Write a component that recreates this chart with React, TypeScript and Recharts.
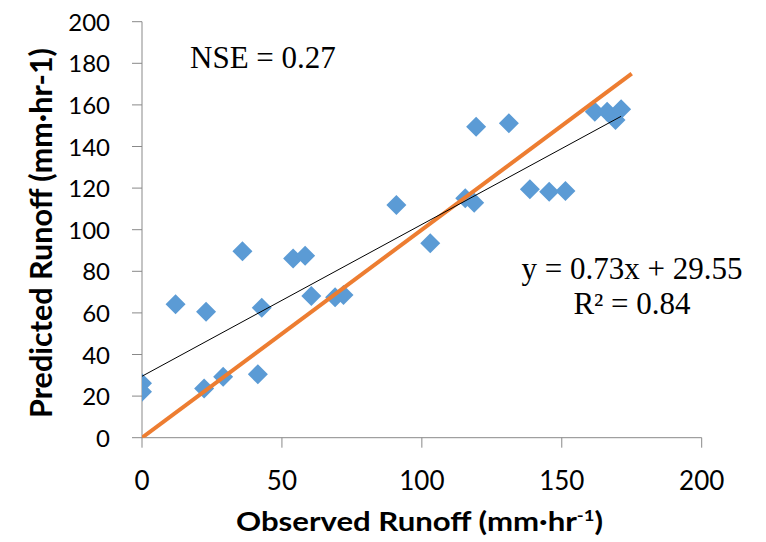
import React from 'react';
import { ScatterChart, Scatter, XAxis, YAxis } from 'recharts';

const observed = [
  0, 0, 12.0, 22.9, 22.2, 29.0, 35.9, 41.4, 42.8, 54.0, 58.3, 60.5, 69.0, 72.0,
  90.9, 103.0, 115.5, 118.7, 119.4, 131.1, 138.6, 145.5, 151.3, 161.8, 166.2, 169.2, 171.2,
];
const predicted = [
  26.2, 22.1, 64.1, 60.6, 23.7, 29.3, 89.6, 30.5, 62.5, 86.2, 87.5, 68.1, 67.5, 68.6,
  111.9, 93.5, 115.1, 113.0, 149.5, 151.2, 119.4, 118.3, 118.6, 156.7, 156.7, 152.7, 157.9,
];

const xTicks = [0, 50, 100, 150, 200];
const yTicks = [0, 20, 40, 60, 80, 100, 120, 140, 160, 180, 200];

// 1:1 line and linear trend endpoints
const oneToOneX = [0, 175];
const oneToOneY = [0, 175];
const trendX = [0, 171.2];
const trendY = [29.55, 154.5];

const points = observed.map((x, i) => ({ x, y: predicted[i] }));
const oneToOne = oneToOneX.map((x, i) => ({ x, y: oneToOneY[i] }));
const trend = trendX.map((x, i) => ({ x, y: trendY[i] }));

const AXIS_GREY = '#898989';
const BLUE = '#5B9BD5';
const ORANGE = '#ED7D31';

const Diamond = (props: any) => {
  const { cx, cy } = props;
  const r = 10;
  return (
    <path
      d={`M${cx},${cy - r} L${cx + r},${cy} L${cx},${cy + r} L${cx - r},${cy} Z`}
      fill={BLUE}
    />
  );
};

const NoDot = () => <g />;

const YTick = (props: any) => {
  const { x, y, payload } = props;
  return (
    <text x={x} y={y} dy={9} textAnchor="end" fontFamily="Lato" fontSize={24} fill="#000">
      {payload.value}
    </text>
  );
};

const XTick = (props: any) => {
  const { x, y, payload } = props;
  return (
    <text x={x} y={y} dy={38} textAnchor="middle" fontFamily="Lato" fontSize={26} fill="#000">
      {payload.value}
    </text>
  );
};

const App: React.FC = () => {
  return (
    <div style={{ position: 'absolute', left: 0, top: 0, width: 766, height: 542, background: '#fff' }}>
      <ScatterChart
        width={766}
        height={542}
        margin={{ top: 21.7, right: 64.3, left: 82, bottom: 44.3 }}
      >
        <XAxis
          type="number"
          dataKey="x"
          domain={[0, 200]}
          ticks={xTicks}
          height={60}
          tickSize={10}
          tickMargin={4}
          stroke={AXIS_GREY}
          tick={<XTick />}
          allowDataOverflow
        />
        <YAxis
          type="number"
          dataKey="y"
          domain={[0, 200]}
          ticks={yTicks}
          width={60}
          tickSize={10}
          tickMargin={22}
          stroke={AXIS_GREY}
          tick={<YTick />}
          allowDataOverflow
        />
        <Scatter data={points} shape={<Diamond />} isAnimationActive={false} />
        <Scatter
          data={oneToOne}
          line={{ stroke: ORANGE, strokeWidth: 4 }}
          shape={<NoDot />}
          isAnimationActive={false}
        />
        <Scatter
          data={trend}
          line={{ stroke: '#000', strokeWidth: 1 }}
          shape={<NoDot />}
          isAnimationActive={false}
        />
      </ScatterChart>

      <svg
        width={766}
        height={542}
        style={{ position: 'absolute', left: 0, top: 0, pointerEvents: 'none' }}
      >
        <text x={190} y={68} fontFamily="Liberation Serif" fontSize={31} fill="#000">
          NSE = 0.27
        </text>
        <text x={632} y={279} textAnchor="middle" fontFamily="Liberation Serif" fontSize={31} fill="#000">
          y = 0.73x + 29.55
        </text>
        <text x={632} y={314} textAnchor="middle" fontFamily="Liberation Serif" fontSize={31} fill="#000">
          R² = 0.84
        </text>
        <text
          x={419.5}
          y={531}
          textAnchor="middle"
          fontFamily="Lato"
          fontWeight="bold"
          fontSize={27}
          fill="#000"
          textLength={367}
          lengthAdjust="spacingAndGlyphs"
        >
          Observed Runoff (mm·hr
          <tspan fontSize={16} dy={-10}>-1</tspan>
          <tspan dy={10}>)</tspan>
        </text>
        <text
          x={52}
          y={233}
          transform="rotate(-90, 52, 233)"
          textAnchor="middle"
          fontFamily="Lato"
          fontWeight="bold"
          fontSize={30}
          fill="#000"
          textLength={370}
          lengthAdjust="spacingAndGlyphs"
        >
          Predicted Runoff (mm·hr-1)
        </text>
      </svg>
    </div>
  );
};

export default App;
